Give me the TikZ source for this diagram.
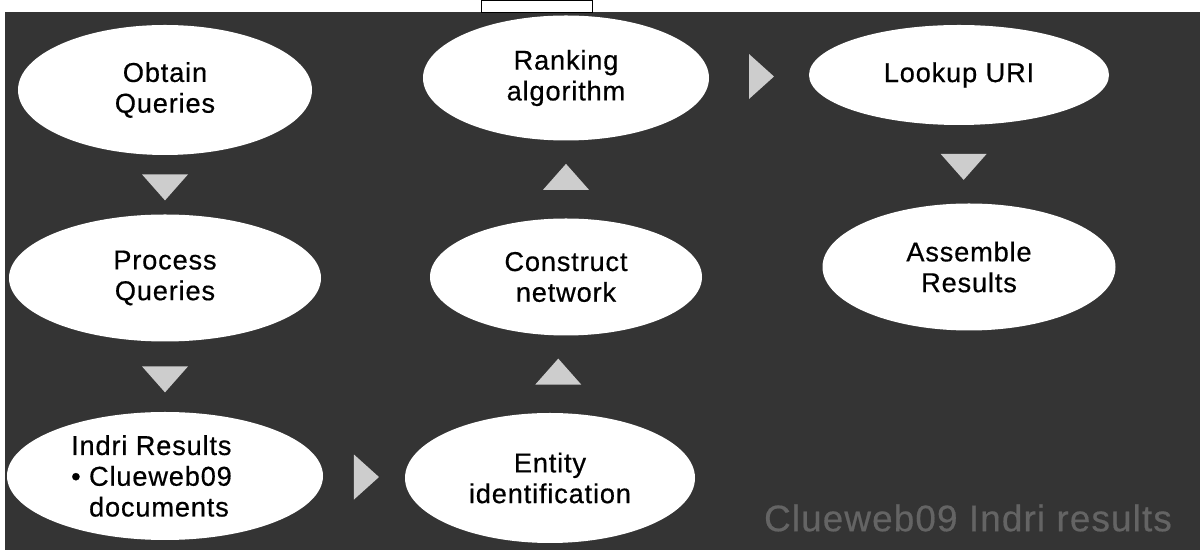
\documentclass[tikz,border=0pt]{standalone}
\usepackage{fontspec}
\setmainfont{Liberation Sans}[LetterSpace=3, FakeBold=0.5]
\usepackage{tikz}
\usetikzlibrary{shapes.geometric,positioning}

\definecolor{slidebg}{RGB}{52,52,52}
\definecolor{trifill}{RGB}{205,205,205}
\definecolor{faint}{RGB}{100,100,100}

\tikzset{
  stage/.style={ellipse, fill=white, inner sep=0pt, align=center,
    font=\fontsize{15.5}{17.5}\selectfont},
  tri/.style={isosceles triangle, isosceles triangle stretches, fill=trifill,
    inner sep=0pt, minimum width=0.92cm, minimum height=0.52cm},
  tridown/.style={tri, shape border rotate=-90},
  triup/.style={tri, shape border rotate=90},
  triright/.style={tri, shape border rotate=0, minimum width=0.9cm, minimum height=0.5cm},
}

\begin{document}
\begin{tikzpicture}
        \useasboundingbox (0,0) rectangle (24.04,-11.04);
        \fill[slidebg] (0.1,-0.24) rectangle (24.0,-11.0);
        \draw[fill=white, line width=0.5pt] (9.62,0) rectangle (11.84,-0.24);

        \node [stage, minimum width=5.88cm, minimum height=2.6cm] (1) at (3.3,-1.8) {Obtain\\Queries};
        \node [stage, below of=1, yshift=-2.76cm, minimum width=6.24cm, minimum height=2.54cm] (2) {Process\\Queries};
        \node [stage, below of=2, yshift=-2.96cm, minimum width=6.32cm, minimum height=2.56cm, align=left] (3)
          {Indri Results\\\textbullet\ Clueweb09\\\phantom{\textbullet\ }documents\hspace*{0.6cm}};
        \node [stage, right of=3, xshift=6.7cm, yshift=-0.04cm, minimum width=5.8cm, minimum height=2.6cm] (4) {Entity\\identification};
        \node [stage, above of=4, xshift=0.32cm, yshift=3.02cm, minimum width=5.44cm, minimum height=2.34cm] (5) {Construct\\network};
        \node [stage, above of=5, yshift=2.98cm, minimum width=5.72cm, minimum height=2.5cm] (6) {Ranking\\algorithm};
        \node [stage, right of=6, xshift=6.86cm, yshift=0.06cm, minimum width=6.0cm, minimum height=2.0cm] (7) {Lookup URI};
        \node [stage, below of=7, xshift=0.2cm, yshift=-2.84cm, minimum width=5.86cm, minimum height=2.54cm] (8) {Assemble\\Results};

        \path (1) -- node [tridown] (t1) {} (2);
        \path (2) -- node [tridown] (t2) {} (3);
        \path (3) -- node [triright] (t3) {} (4);
        \path (4) -- node [triup] (t4) {} (5);
        \path (5) -- node [triup] (t5) {} (6);
        \path (6) -- node [triright] (t6) {} (7);
        \path (7) -- node [tridown] (t7) {} (8);

        \node [text=faint, font=\fontsize{21}{23}\selectfont] (wm) at (19.36,-10.36) {Clueweb09 Indri results};
      \end{tikzpicture}
\end{document}
